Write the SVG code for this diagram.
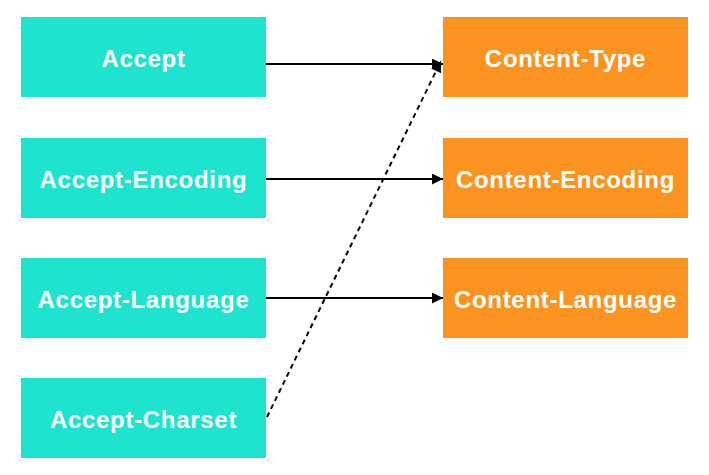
<svg xmlns="http://www.w3.org/2000/svg" width="709" height="475" viewBox="0 0 709 475">
<defs>
<style>
.l{fill:#1EE3CF}
.r{fill:#FB9320}
.t{fill:#fff;font-family:"Liberation Sans",Arial,sans-serif;font-weight:bold;font-size:24px;letter-spacing:0.7px;text-anchor:middle}
.c{stroke:#000;stroke-width:2;fill:none}
</style>
<marker id="ah" viewBox="0 0 10 10" refX="10" refY="5" markerWidth="11" markerHeight="11" orient="auto" markerUnits="userSpaceOnUse">
<path d="M0,0 L10,5 L0,10 z" fill="#000"/>
</marker>
</defs>
<g id="accept"><rect class="l" x="21" y="17" width="245" height="80"/><text class="t" x="143.5" y="67">Accept</text></g>
<g id="accept-encoding"><rect class="l" x="21" y="138" width="245" height="80"/><text class="t" x="143.5" y="188">Accept-Encoding</text></g>
<g id="accept-language"><rect class="l" x="21" y="258" width="245" height="80"/><text class="t" x="143.5" y="308">Accept-Language</text></g>
<g id="accept-charset"><rect class="l" x="21" y="378" width="245" height="80"/><text class="t" x="143.5" y="428">Accept-Charset</text></g>
<g id="content-type"><rect class="r" x="443" y="17" width="245" height="80"/><text class="t" x="565.5" y="67">Content-Type</text></g>
<g id="content-encoding"><rect class="r" x="443" y="138" width="245" height="80"/><text class="t" x="565.5" y="188">Content-Encoding</text></g>
<g id="content-language"><rect class="r" x="443" y="258" width="245" height="80"/><text class="t" x="565.5" y="308">Content-Language</text></g>
<g id="connectors">
<line class="c" x1="266" y1="64" x2="443" y2="64" marker-end="url(#ah)"/>
<line class="c" x1="266" y1="179" x2="443" y2="179" marker-end="url(#ah)"/>
<line class="c" x1="266" y1="298" x2="443" y2="298" marker-end="url(#ah)"/>
<line class="c" x1="267" y1="417" x2="441" y2="61" stroke-dasharray="5,4" marker-end="url(#ah)"/>
</g>
</svg>
